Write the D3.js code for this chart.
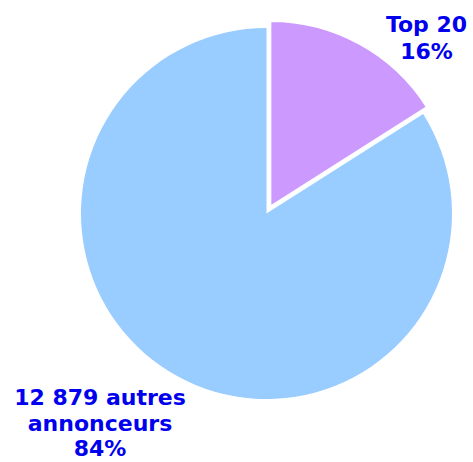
<!DOCTYPE html>
<html>
<head>
<meta charset="utf-8">
<script src="https://cdn.jsdelivr.net/npm/d3@7"></script>
<style>
  body { margin: 0; background: #fff; }
  svg { display: block; }
  text { font-family: "DejaVu Sans", Verdana, sans-serif; font-weight: bold; fill: #0000ee; }
</style>
</head>
<body>
<div id="chart"></div>
<script>
// data
const categories = ['Top 20', '12 879 autres annonceurs'];
const shares = [16, 84];
const labelLines = [['Top 20', '16%'], ['12 879 autres', 'annonceurs', '84%']];
const colors = ['#cc99ff', '#99ccff'];

const width = 473, height = 462;
const cx = 266.5, cy = 213.5, radius = 185.5;
const explode = 8;

const svg = d3.select('#chart')
    .append('svg')
    .attr('width', width)
    .attr('height', height);

const pie = d3.pie().sort(null).value(d => d.value);
const arcs = pie(categories.map((c, i) => ({ name: c, value: shares[i], lines: labelLines[i], color: colors[i] })));

const arc = d3.arc().innerRadius(0).outerRadius(radius);

const g = svg.append('g').attr('transform', `translate(${cx}, ${cy})`);

// draw big slice first so the exploded one sits on top
const order = arcs.slice().sort((a, b) => b.data.value - a.data.value);

g.selectAll('.slice')
    .data(order)
    .enter()
    .append('path')
    .attr('class', 'slice')
    .attr('d', arc)
    .attr('fill', d => d.data.color)
    .attr('stroke', d => d.index === 0 ? '#fff' : 'none')
    .attr('stroke-width', 2)
    .attr('transform', d => {
        if (d.index !== 0) return null;
        const mid = (d.startAngle + d.endAngle) / 2;
        return `translate(${Math.sin(mid) * explode}, ${-Math.cos(mid) * explode})`;
    });

// labels (placed outside the pie, as in the original)
const labelPos = [
    { x: 426.5, y: 32 },
    { x: 100, y: 405 }
];
const lineH = 25.5;

arcs.forEach((d, i) => {
    const t = svg.append('text')
        .attr('text-anchor', 'middle')
        .style('font-size', '22px');
    d.data.lines.forEach((ln, j) => {
        t.append('tspan')
            .attr('x', labelPos[i].x)
            .attr('y', labelPos[i].y + j * (i === 0 ? 27 : lineH))
            .text(ln);
    });
});
</script>
</body>
</html>
